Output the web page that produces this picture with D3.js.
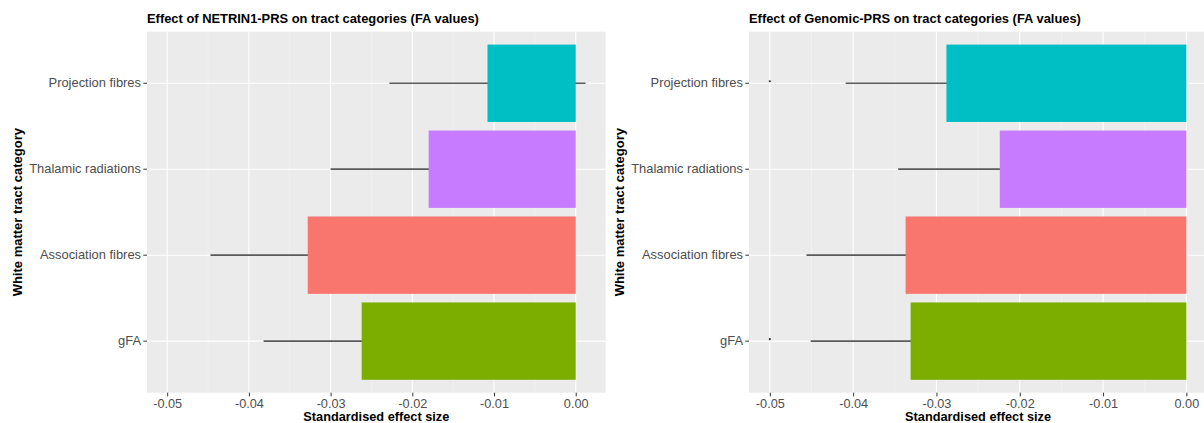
<!DOCTYPE html>
<html>
<head>
<meta charset="utf-8">
<script src="https://cdn.jsdelivr.net/npm/d3@7"></script>
<style>
  html, body { margin: 0; padding: 0; background: #ffffff; }
  svg { display: block; font-family: "Liberation Sans", Arial, Helvetica, sans-serif; }
</style>
</head>
<body>
<svg id="chart" width="1204" height="423"></svg>
<script>
// Tract categories, bottom to top
const categories = ["gFA", "Association fibres", "Thalamic radiations", "Projection fibres"];
const categoryColors = ["#7CAE00", "#F8766D", "#C77CFF", "#00BFC4"];

// NETRIN1-PRS: standardised effect and 95% CI bounds
const netrinEffect = [-0.0262, -0.0328, -0.0180, -0.0108];
const netrinLower  = [-0.0382, -0.0447, -0.0300, -0.0228];
const netrinUpper  = [-0.0142, -0.0209, -0.0060, 0.0012];

// Genomic-PRS: standardised effect and 95% CI bounds
const genomicEffect = [-0.0331, -0.0337, -0.0224, -0.0288];
const genomicLower  = [-0.0451, -0.0456, -0.0346, -0.0409];
const genomicUpper  = [-0.0211, -0.0218, -0.0102, -0.0167];

// Markers placed at x = -0.05 on selected rows of the Genomic-PRS panel
const genomicMarkCategories = ["Projection fibres", "gFA"];
const genomicMarkValue = -0.05;

// Axis ticks
const xTicks = [-0.05, -0.04, -0.03, -0.02, -0.01, 0.00];
const xMinorTicks = [-0.045, -0.035, -0.025, -0.015, -0.005];

const titles = [
  "Effect of NETRIN1-PRS on tract categories (FA values)",
  "Effect of Genomic-PRS on tract categories (FA values)"
];
const xTitle = "Standardised effect size";
const yTitle = "White matter tract category";

const svg = d3.select("#chart");

function drawPanel(opts) {
  const { left, right, top, bottom, domain, effect, lower, upper, title, marks, plotLeft } = opts;
  const g = svg.append("g");
  const clipId = "clip" + Math.round(left);

  const x = d3.scaleLinear().domain(domain).range([left, right]);
  // discrete axis: 0.6 category-widths of space at either end, bars 0.9 wide
  const y = d3.scaleBand().domain(categories.slice().reverse())
    .range([top, bottom]).paddingInner(0.1).paddingOuter(0.15);
  const yc = c => y(c) + y.bandwidth() / 2;

  svg.append("clipPath").attr("id", clipId).append("rect")
    .attr("x", left).attr("y", top).attr("width", right - left).attr("height", bottom - top);

  // panel background
  g.append("rect").attr("x", left).attr("y", top)
    .attr("width", right - left).attr("height", bottom - top).attr("fill", "#EBEBEB");

  const grid = g.append("g").attr("clip-path", `url(#${clipId})`);
  grid.selectAll("line.minor").data(xMinorTicks).join("line")
    .attr("x1", d => x(d)).attr("x2", d => x(d)).attr("y1", top).attr("y2", bottom)
    .attr("stroke", "#F5F5F5").attr("stroke-width", 0.6);
  grid.selectAll("line.major").data(xTicks).join("line")
    .attr("x1", d => x(d)).attr("x2", d => x(d)).attr("y1", top).attr("y2", bottom)
    .attr("stroke", "#FFFFFF").attr("stroke-width", 1.1);
  grid.selectAll("line.hmajor").data(categories).join("line")
    .attr("x1", left).attr("x2", right).attr("y1", d => yc(d)).attr("y2", d => yc(d))
    .attr("stroke", "#FFFFFF").attr("stroke-width", 1.1);

  const rows = categories.map((c, i) => ({ c, v: effect[i], lo: lower[i], hi: upper[i], col: categoryColors[i] }));

  const plot = g.append("g").attr("clip-path", `url(#${clipId})`);
  // confidence intervals (beneath bars)
  plot.selectAll("line.ci").data(rows).join("line")
    .attr("x1", d => x(d.lo)).attr("x2", d => x(d.hi))
    .attr("y1", d => yc(d.c)).attr("y2", d => yc(d.c))
    .attr("stroke", "#5A5A5A").attr("stroke-width", 1.7);
  // bars
  plot.selectAll("rect.bar").data(rows).join("rect")
    .attr("x", d => x(Math.min(0, d.v))).attr("width", d => Math.abs(x(d.v) - x(0)))
    .attr("y", d => y(d.c)).attr("height", y.bandwidth())
    .attr("fill", d => d.col);
  // markers
  if (marks) {
    plot.selectAll("circle.mark").data(marks.cats).join("circle")
      .attr("cx", x(marks.value)).attr("cy", d => yc(d) - 2)
      .attr("r", 1.1).attr("fill", "#333333");
  }

  // x axis
  const xa = g.append("g").attr("transform", `translate(0,${bottom})`)
    .call(d3.axisBottom(x).tickValues(xTicks).tickFormat(d3.format(".2f")).tickSizeInner(3.7).tickSizeOuter(0).tickPadding(2.5));
  xa.select(".domain").remove();
  xa.selectAll(".tick line").attr("stroke", "#333333").attr("stroke-width", 1);
  xa.selectAll(".tick text").attr("fill", "#4D4D4D").attr("font-size", "12.7px")
    .text(d => d3.format(".2f")(d).replace("−", "-"));

  // y axis
  const ya = g.append("g").attr("transform", `translate(${left},0)`)
    .call(d3.axisLeft(y).tickSizeInner(3.7).tickSizeOuter(0).tickPadding(2.3));
  ya.select(".domain").remove();
  ya.selectAll(".tick line").attr("stroke", "#333333").attr("stroke-width", 1);
  ya.selectAll(".tick text").attr("fill", "#4D4D4D").attr("font-size", "12.9px");

  // titles
  g.append("text").attr("x", left).attr("y", 23)
    .attr("font-size", "12.9px").attr("font-weight", "bold").attr("fill", "#000")
    .text(title);
  g.append("text").attr("x", (left + right) / 2).attr("y", 421)
    .attr("text-anchor", "middle").attr("font-size", "12.75px").attr("font-weight", "bold").attr("fill", "#000")
    .text(xTitle);
  g.append("text")
    .attr("transform", `translate(${plotLeft + 22},${(top + bottom) / 2}) rotate(-90)`)
    .attr("text-anchor", "middle").attr("font-size", "13px").attr("font-weight", "bold").attr("fill", "#000")
    .text(yTitle);
}

drawPanel({
  left: 147, right: 605.7, top: 31.7, bottom: 392.7,
  domain: [-0.05247, 0.00367],
  effect: netrinEffect, lower: netrinLower, upper: netrinUpper,
  title: titles[0], plotLeft: 0
});

drawPanel({
  left: 749, right: 1207.2, top: 31.7, bottom: 392.7,
  domain: [-0.0525, 0.0025],
  effect: genomicEffect, lower: genomicLower, upper: genomicUpper,
  title: titles[1], plotLeft: 602,
  marks: { cats: genomicMarkCategories, value: genomicMarkValue }
});
</script>
</body>
</html>
